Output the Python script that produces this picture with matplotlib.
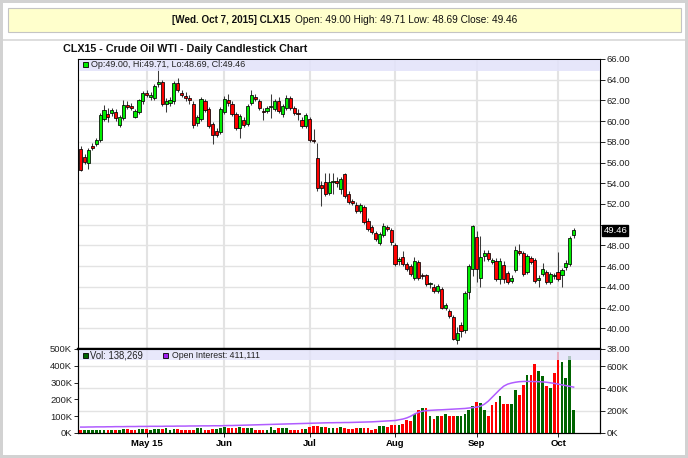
import numpy as np
import pandas as pd
import matplotlib
matplotlib.use("Agg")
import matplotlib.pyplot as plt
from matplotlib.patches import Rectangle

plt.rcParams['font.family'] = ['Liberation Sans', 'DejaVu Sans']

# ---------------- data ----------------
chart_title = "CLX15 - Crude Oil WTI - Daily Candlestick Chart"
header_bold = "[Wed. Oct 7, 2015] CLX15"
header_rest = "Open: 49.00 High: 49.71 Low: 48.69 Close: 49.46"
holidays = ["2015-04-03", "2015-05-25", "2015-07-03", "2015-09-07"]
dates = pd.bdate_range("2015-04-08", "2015-10-07", freq="C", holidays=holidays)

opens = [
    57.3, 56.5, 56.0, 57.6, 57.8, 58.2, 60.2, 60.7, 60.8, 60.9,
    59.6, 60.3, 61.6, 61.5, 60.4, 60.9, 61.9, 62.7, 62.3, 62.2,
    63.6, 63.8, 61.7, 61.8, 61.9, 63.7, 62.7, 62.4, 62.2, 61.7,
    59.8, 60.2, 61.9, 61.2, 59.7, 59.0, 59.0, 60.9, 62.0, 61.7,
    60.7, 59.3, 60.1, 59.7, 61.8, 62.3, 61.9, 60.95, 61.0, 61.4,
    61.2, 61.9, 60.7, 61.3, 62.2, 61.3, 60.8, 60.1, 59.5, 60.2,
    58.2, 56.4, 53.8, 54.1, 53.1, 54.15, 54.2, 53.45, 54.9, 53.0,
    52.3, 51.9, 51.3, 51.7, 50.4, 49.8, 49.2, 48.2, 49.0, 49.8,
    49.5, 48.0, 46.5, 46.9, 46.2, 46.0, 44.9, 46.4, 45.1, 45.1,
    44.3, 44.0, 43.6, 43.8, 41.95, 41.7, 41.1, 38.9, 40.3, 39.8,
    43.5, 45.7, 48.8, 44.9, 47.0, 47.3, 46.4, 46.5, 44.8, 46.1,
    45.3, 44.6, 45.6, 47.5, 47.3, 45.4, 46.8, 46.6, 44.7, 45.2,
    45.4, 44.5, 45.0, 45.4, 45.1, 45.9, 46.2, 49.00]
highs = [
    57.6, 56.8, 57.4, 57.9, 58.4, 60.8, 61.6, 61.3, 61.3, 61.2,
    60.6, 62.0, 61.9, 61.8, 61.2, 62.1, 62.9, 63.0, 62.8, 63.6,
    65.5, 64.0, 62.2, 62.3, 63.9, 64.2, 63.0, 62.8, 62.5, 61.9,
    60.6, 62.3, 62.1, 61.4, 59.9, 59.3, 61.4, 62.4, 62.6, 61.9,
    60.9, 60.7, 60.4, 61.7, 63.0, 62.6, 62.1, 61.3, 61.5, 62.6,
    62.1, 62.3, 61.7, 62.5, 62.4, 61.5, 61.2, 60.4, 60.8, 60.4,
    59.2, 57.9, 54.2, 55.0, 55.0, 55.0, 54.6, 54.6, 55.0, 53.3,
    52.5, 52.2, 52.1, 51.9, 50.6, 50.0, 49.4, 49.3, 50.2, 50.0,
    49.7, 48.2, 46.9, 47.5, 46.4, 46.2, 46.9, 46.6, 45.3, 45.2,
    44.5, 44.3, 44.3, 44.0, 42.4, 41.9, 41.3, 40.1, 40.6, 43.6,
    46.2, 50.0, 49.4, 48.9, 47.6, 47.6, 46.8, 46.8, 46.8, 46.5,
    45.5, 45.1, 47.9, 48.1, 47.5, 47.2, 47.0, 46.8, 45.1, 46.3,
    45.6, 45.4, 45.3, 47.4, 45.8, 46.6, 48.9, 49.71]
lows = [
    55.2, 55.9, 55.4, 57.2, 57.6, 58.0, 60.0, 59.9, 60.5, 60.0,
    59.4, 60.1, 61.2, 61.1, 60.3, 60.7, 61.7, 62.3, 62.0, 62.0,
    63.3, 61.5, 60.9, 61.5, 61.7, 62.8, 62.3, 61.9, 61.7, 59.3,
    59.5, 60.0, 60.9, 59.3, 57.8, 58.5, 58.8, 60.7, 61.5, 60.5,
    59.1, 58.4, 59.4, 59.5, 61.6, 61.9, 61.1, 60.1, 60.8, 60.3,
    61.0, 60.8, 60.4, 61.1, 61.1, 60.6, 60.1, 59.3, 59.3, 58.0,
    57.9, 53.3, 51.8, 52.8, 52.9, 53.0, 53.6, 53.0, 52.6, 52.0,
    51.9, 51.1, 51.1, 50.1, 49.4, 49.1, 48.4, 48.0, 48.8, 49.4,
    48.0, 46.0, 46.1, 46.0, 45.5, 45.0, 44.7, 44.7, 44.8, 44.1,
    43.9, 43.4, 43.4, 41.9, 41.8, 41.0, 38.9, 38.5, 39.2, 39.5,
    42.8, 45.0, 44.5, 44.0, 46.5, 46.5, 46.2, 44.6, 44.3, 44.4,
    44.3, 44.4, 45.4, 47.1, 45.0, 45.2, 46.2, 44.4, 44.0, 45.0,
    44.3, 44.3, 44.8, 44.6, 44.0, 45.6, 46.0, 48.69]
closes = [
    55.3, 56.1, 57.2, 57.4, 58.2, 60.6, 61.1, 60.4, 61.1, 60.3,
    60.4, 61.6, 61.4, 61.3, 61.0, 62.0, 62.7, 62.5, 62.5, 63.4,
    63.8, 61.7, 61.9, 62.0, 63.7, 63.0, 62.55, 62.2, 62.05, 59.6,
    60.4, 62.1, 61.1, 59.5, 58.7, 58.7, 61.2, 62.1, 61.8, 60.7,
    59.3, 60.5, 59.6, 61.5, 62.5, 62.1, 61.3, 60.9, 61.3, 61.5,
    61.9, 61.0, 61.5, 62.2, 61.3, 60.8, 60.7, 59.5, 60.6, 58.2,
    58.1, 53.5, 53.5, 53.0, 54.1, 54.2, 54.0, 54.4, 52.8, 52.2,
    52.1, 51.3, 51.9, 50.3, 49.6, 49.3, 48.6, 49.1, 49.9, 49.6,
    48.3, 46.2, 46.7, 46.2, 45.7, 45.2, 46.5, 44.9, 45.0, 44.3,
    44.35, 43.6, 44.1, 42.0, 42.2, 41.2, 39.0, 39.5, 39.7, 43.4,
    46.0, 49.9, 45.7, 46.9, 47.3, 46.7, 46.6, 44.8, 46.5, 44.8,
    44.5, 44.9, 47.6, 47.3, 45.2, 47.0, 46.4, 44.6, 44.9, 45.7,
    44.5, 45.2, 45.1, 44.8, 45.6, 46.3, 48.7, 49.46]
volume_k = [
    15, 18, 18, 20, 18, 20, 18, 16, 18, 17,
    16, 22, 24, 20, 18, 26, 22, 24, 20, 22,
    22, 22, 28, 20, 22, 22, 20, 20, 20, 20,
    28, 28, 20, 20, 26, 26, 28, 36, 30, 28,
    28, 36, 28, 30, 30, 20, 20, 20, 20, 36,
    20, 28, 30, 30, 20, 20, 20, 24, 24, 36,
    40, 44, 36, 36, 30, 30, 30, 36, 28, 25,
    25, 28, 30, 28, 32, 20, 25, 42, 42, 36,
    50, 50, 50, 56, 80, 70, 115, 135, 150, 150,
    100, 85, 100, 100, 115, 100, 103, 103, 103, 115,
    139, 159, 185, 179, 135, 103, 169, 185, 218, 175,
    175, 175, 254, 224, 288, 347, 347, 413, 371, 341,
    278, 268, 357, 480, 420, 327, 456, 138.269]
open_interest_k = [
    53, 53, 54, 54, 55, 55, 55, 56, 56, 57,
    57, 57, 58, 58, 58, 59, 59, 59, 60, 60,
    60, 60, 61, 61, 61, 62, 62, 62, 63, 63,
    63, 64, 64, 64, 65, 65, 65, 66, 67, 67,
    68, 69, 70, 71, 72, 73, 74, 75, 76, 77,
    78, 79, 80, 81, 82, 83, 84, 85, 86, 87,
    88, 89, 90, 91, 92, 92, 93, 93, 94, 94,
    95, 96, 97, 98, 99, 100, 102, 104, 106, 108,
    110, 112, 118, 125, 135, 150, 170, 185, 195, 200,
    203, 205, 207, 208, 210, 212, 214, 216, 218, 220,
    224, 228, 232, 240, 258, 285, 320, 355, 390, 420,
    438, 448, 455, 460, 462, 463, 462, 461, 460, 458,
    455, 450, 445, 438, 430, 424, 418, 411.111]
price_ticks = [38, 40, 42, 44, 46, 48, 50, 52, 54, 56, 58, 60, 62, 64, 66]
vol_ticks_k = [0, 100, 200, 300, 400, 500]
oi_ticks_k = [0, 200, 400, 600]
month_labels = ["May 15", "Jun", "Jul", "Aug", "Sep", "Oct"]

# ---------------- styling ----------------
W, H = 688, 458
GREEN = '#00ee00'
RED = '#ff0000'
VGREEN = '#006400'
GRID = '#e3e3e3'
STRIP = '#e2e2fa'

o = np.array(opens); h = np.array(highs); l = np.array(lows); c = np.array(closes)
vol = np.array(volume_k) * 1000
oi = np.array(open_interest_k) * 1000
n = len(c)
x = np.arange(n)
month_idx = [int(np.argmax(dates.month == m)) for m in [5, 6, 7, 8, 9, 10]]

fig = plt.figure(figsize=(W / 100, H / 100), dpi=100)
fig.patch.set_facecolor('white')


def box(x0, y0, x1, y1):
    return [x0 / W, 1 - y1 / H, (x1 - x0) / W, (y1 - y0) / H]


# background frame and header
bg = fig.add_axes([0, 0, 1, 1], zorder=0)
bg.set_xlim(0, W); bg.set_ylim(H, 0); bg.axis('off')
bg.add_patch(Rectangle((0, 0), W, H, fc='#d2d2d2', ec='none'))
bg.add_patch(Rectangle((3, 3), W - 6, H - 6, fc='white', ec='none'))
bg.add_patch(Rectangle((3, 38.5), W - 6, 2.5, fc='#dedede', ec='none'))
bg.add_patch(Rectangle((7.5, 7.5), W - 15, 24.5, fc='#ffffcc', ec='#c4c4c4', lw=0.8))

t_hb = bg.text(172, 20, header_bold, fontsize=7, fontweight='bold', va='center', ha='left', color='#111111')
t_hr = bg.text(295, 20, header_rest, fontsize=7, va='center', ha='left', color='#111111')
t_title = bg.text(63, 48.5, chart_title, fontsize=7.5, fontweight='bold', va='center', ha='left', color='#111111')

# ---------------- price panel ----------------
ax = fig.add_axes(box(78, 59, 600, 349), zorder=2)
ax.set_xlim(-0.7, 133.8)
ax.set_ylim(38, 66)
ax.set_axisbelow(True)
ax.set_yticks(price_ticks)
ax.yaxis.tick_right()
ax.set_yticklabels(["" if v == 50 else f"{v:.2f}" for v in price_ticks])
ax.set_xticks(month_idx)
ax.tick_params(axis='x', length=0, labelbottom=False)
ax.tick_params(axis='y', direction='out', length=3.5, width=0.6, labelsize=6.8,
               pad=1.2, labelcolor='#222222')
ax.grid(axis='y', color=GRID, lw=1.0)
ax.grid(axis='x', color=GRID, lw=1.5)
for s in ax.spines.values():
    s.set_color('black'); s.set_linewidth(0.8)

body_colors = [GREEN if cc >= oo else RED for oo, cc in zip(o, c)]
ax.vlines(x, l, h, colors='#3a3a3a', lw=0.75, zorder=3)
ax.bar(x, np.abs(c - o), bottom=np.minimum(o, c), width=0.82, color=body_colors,
       edgecolor='black', linewidth=0.55, zorder=4)

ax.annotate(f"{c[-1]:.2f}", xy=(1, c[-1]), xycoords=('axes fraction', 'data'),
            xytext=(2.6, 0), textcoords='offset points', va='center', ha='left',
            fontsize=6.8, color='white',
            bbox=dict(boxstyle='square,pad=0.12', fc='black', ec='black'),
            annotation_clip=False, zorder=20)

# ---------------- volume panel ----------------
axv = fig.add_axes(box(78, 349, 600, 433), zorder=2)
axv.set_xlim(-0.7, 133.8)
axv.set_ylim(0, 500000)
axv.set_axisbelow(True)
axv.set_yticks([v * 1000 for v in vol_ticks_k])
axv.set_yticklabels([f"{v}K" for v in vol_ticks_k])
axv.set_xticks(month_idx)
axv.set_xticklabels(month_labels, fontweight='bold')
axv.tick_params(axis='x', direction='out', length=3, width=0.6, labelsize=6.8, pad=1.5)
axv.tick_params(axis='y', direction='out', length=3, width=0.6, labelsize=6.8, pad=1.2,
                labelcolor='#222222')
axv.grid(axis='x', color=GRID, lw=1.5)
for s in axv.spines.values():
    s.set_color('black'); s.set_linewidth(0.8)
axv.spines['top'].set_linewidth(1.6)

prev = np.concatenate([[o[0]], c[:-1]])
vol_colors = [VGREEN if cc >= pp else RED for cc, pp in zip(c, prev)]
axo = axv.twinx()
oi_top = 753000
axo.set_ylim(0, oi_top)
for v in oi_ticks_k[1:]:
    axv.plot([0, 1], [v * 1000 / oi_top] * 2, transform=axv.transAxes, color=GRID, lw=1.0, zorder=1)
axv.bar(x, vol, width=0.7, color=vol_colors, linewidth=0, zorder=3)
axo.plot(x, oi, color='#b05cff', lw=1.1, zorder=4)
axo.set_yticks([v * 1000 for v in oi_ticks_k])
axo.set_yticklabels([f"{v}K" for v in oi_ticks_k])
axo.tick_params(axis='y', direction='out', length=3.5, width=0.6, labelsize=6.8, pad=1.2,
                labelcolor='#222222')
for s in axo.spines.values():
    s.set_color('black'); s.set_linewidth(0.8)
axo.spines['top'].set_linewidth(1.6)

# ---------------- overlay: legend strips ----------------
ov = fig.add_axes([0, 0, 1, 1], zorder=10)
ov.set_xlim(0, W); ov.set_ylim(H, 0); ov.axis('off')
ov.patch.set_alpha(0)
ov.add_patch(Rectangle((78.5, 59.5), 521, 11, fc=STRIP, ec='none', alpha=0.85))
ov.add_patch(Rectangle((78.5, 350.3), 521, 10, fc=STRIP, ec='none', alpha=0.78))
ov.add_patch(Rectangle((82.5, 61.8), 5, 5, fc=GREEN, ec='black', lw=0.6))
t_leg = ov.text(91, 64.6, f"Op:{o[-1]:.2f}, Hi:{h[-1]:.2f}, Lo:{l[-1]:.2f}, Cl:{c[-1]:.2f}",
                fontsize=6.5, va='center', ha='left', color='#222222')
ov.add_patch(Rectangle((82.5, 353), 5, 5, fc=VGREEN, ec='black', lw=0.6))
t_vol = ov.text(90, 355.6, f"Vol: {vol[-1]:,.0f}", fontsize=6.5, va='center', ha='left', color='#222222')
ov.add_patch(Rectangle((162.5, 353), 5, 5, fc='#a020f0', ec='black', lw=0.6))
t_oi = ov.text(171.5, 355.6, f"Open Interest: {oi[-1]:,.0f}", fontsize=6.5, va='center', ha='left',
               color='#222222')

# fit text widths to the reference layout
fig.canvas.draw()
r = fig.canvas.get_renderer()
for t, target in [(t_hb, 119), (t_hr, 222), (t_title, 244), (t_leg, 154), (t_vol, 53), (t_oi, 88)]:
    wpx = t.get_window_extent(r).width
    t.set_fontsize(t.get_fontsize() * target / wpx)

fig.savefig("out.png", dpi=100, facecolor=fig.get_facecolor())
